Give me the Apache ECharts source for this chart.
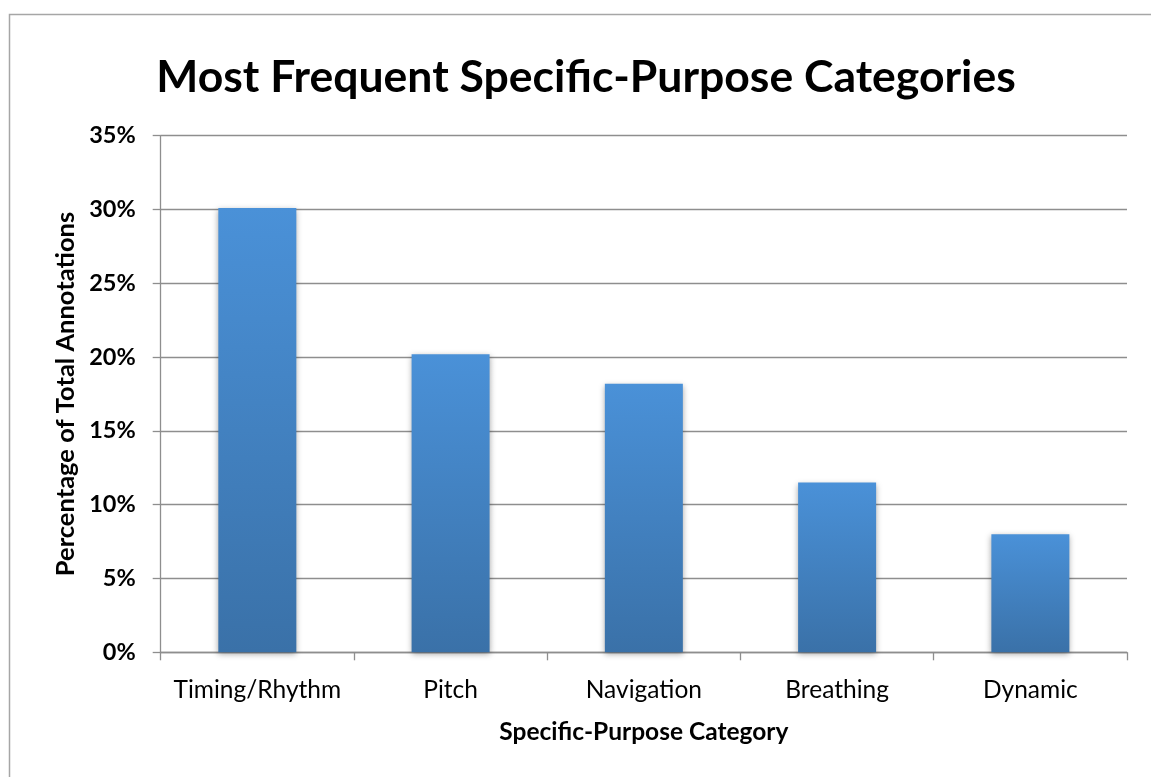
<!DOCTYPE html>
<html>
<head>
<meta charset="utf-8">
<style>
  html, body { margin: 0; padding: 0; background: #ffffff; }
  #chart { width: 1151px; height: 777px; }
</style>
<script src="https://cdn.jsdelivr.net/npm/echarts@6/dist/echarts.min.js"></script>
</head>
<body>
<div id="chart"></div>
<script>
// Share of all annotations per specific-purpose category (percent)
const categories = ['Timing/Rhythm', 'Pitch', 'Navigation', 'Breathing', 'Dynamic'];
const shares = [30.1, 20.2, 18.2, 11.5, 8.0];
const yTicks = [0, 5, 10, 15, 20, 25, 30, 35];

const FONT = 'Lato, "Open Sans", sans-serif';
const AXIS_GREY = '#8e8e8e';

const chart = echarts.init(document.getElementById('chart'), null, { renderer: 'canvas' });

chart.setOption({
  backgroundColor: '#ffffff',
  animation: false,
  graphic: [{
    type: 'rect',
    shape: { x: 9.5, y: 14.5, width: 1300, height: 900 },
    style: { fill: 'none', stroke: '#a6a6a6', lineWidth: 1.5 },
    silent: true,
    z: -1
  }],
  title: {
    text: 'Most Frequent Specific-Purpose Categories',
    left: 581,
    textAlign: 'center',
    top: 50,
    textStyle: { fontFamily: FONT, fontSize: 44.5, fontWeight: 'bold', color: '#000' }
  },
  grid: { left: 160.7, right: 24, top: 135.7, bottom: 124.7, containLabel: false },
  xAxis: {
    type: 'category',
    data: categories,
    boundaryGap: true,
    name: 'Specific-Purpose Category',
    nameLocation: 'middle',
    nameGap: 67,
    nameTextStyle: { fontFamily: FONT, fontSize: 24.5, fontWeight: 'bold', color: '#000' },
    axisLine: { show: true, lineStyle: { color: AXIS_GREY, width: 1.3 } },
    axisTick: { show: true, length: 8, alignWithLabel: false, interval: 0, lineStyle: { color: AXIS_GREY, width: 1.3 } },
    axisLabel: { interval: 0, margin: 25, fontFamily: FONT, fontSize: 24.5, color: '#000' },
    splitLine: { show: false }
  },
  yAxis: {
    type: 'value',
    min: yTicks[0],
    max: yTicks[yTicks.length - 1],
    interval: 5,
    name: 'Percentage of Total Annotations',
    nameLocation: 'middle',
    nameGap: 80,
    nameTextStyle: { fontFamily: FONT, fontSize: 25.5, fontWeight: 'bold', color: '#000' },
    axisLine: { show: true, lineStyle: { color: AXIS_GREY, width: 1.3 } },
    axisTick: { show: true, length: 8, lineStyle: { color: AXIS_GREY, width: 1.3 } },
    axisLabel: {
      margin: 25,
      fontFamily: FONT, fontSize: 23.5, fontWeight: 'bold', color: '#000',
      formatter: v => v + '%'
    },
    splitLine: { show: true, lineStyle: { color: AXIS_GREY, width: 1.3 } }
  },
  series: [{
    type: 'bar',
    data: shares,
    barWidth: 78,
    itemStyle: {
      color: new echarts.graphic.LinearGradient(0, 0, 0, 1, [
        { offset: 0, color: '#4a91d8' },
        { offset: 1, color: '#3a71a8' }
      ]),
      shadowColor: 'rgba(0,0,0,0.35)',
      shadowBlur: 6,
      shadowOffsetY: 2
    },
    label: { show: false }
  }]
});
</script>
</body>
</html>
